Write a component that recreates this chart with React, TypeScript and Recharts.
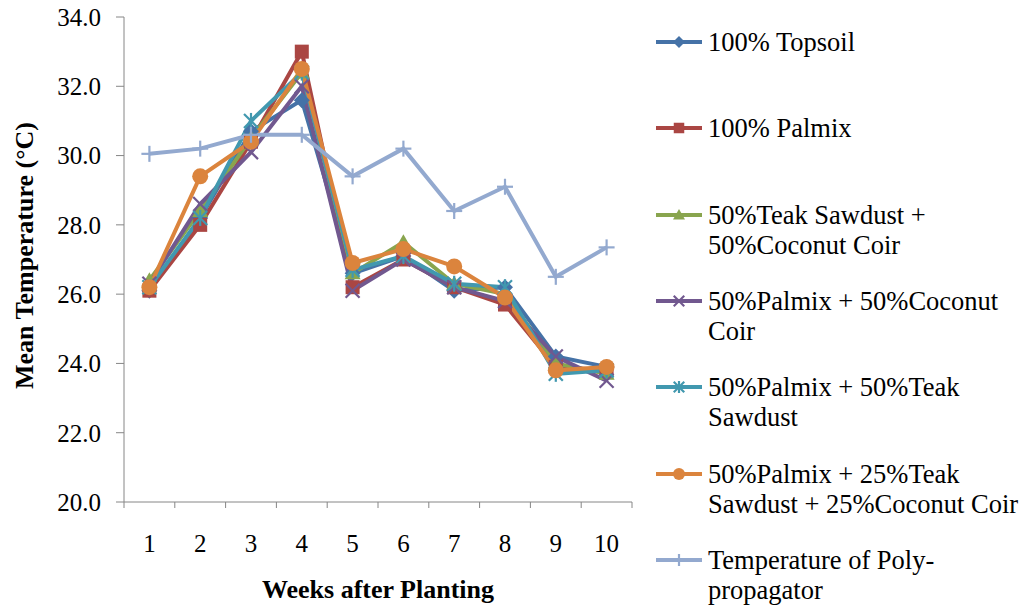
import React from "react";
import { LineChart, Line, XAxis, YAxis, Label } from "recharts";

const weeks = [1, 2, 3, 4, 5, 6, 7, 8, 9, 10];
const topsoil = [26.1, 28.2, 30.7, 31.6, 26.6, 27.1, 26.1, 26.2, 24.2, 23.9];
const palmix = [26.1, 28.0, 30.4, 33.0, 26.2, 27.0, 26.2, 25.7, 23.9, 23.8];
const teakCoir = [26.4, 28.4, 30.5, 32.4, 26.6, 27.5, 26.3, 26.0, 24.0, 23.7];
const palmixCoir = [26.3, 28.6, 30.1, 32.0, 26.1, 27.0, 26.2, 25.8, 24.2, 23.5];
const palmixTeak = [26.2, 28.2, 31.0, 32.4, 26.7, 27.1, 26.3, 26.2, 23.7, 23.8];
const palmixTeakCoir = [26.2, 29.4, 30.4, 32.5, 26.9, 27.3, 26.8, 25.9, 23.8, 23.9];
const polyPropagator = [30.05, 30.2, 30.6, 30.6, 29.4, 30.2, 28.4, 29.1, 26.5, 27.35];
const yTicks = [20, 22, 24, 26, 28, 30, 32, 34];

type Shape = "diamond" | "square" | "triangle" | "x" | "star" | "circle" | "plus";

const series: { key: string; name: string; color: string; shape: Shape; values: number[] }[] = [
  { key: "topsoil", name: "100% Topsoil", color: "#4572A7", shape: "diamond", values: topsoil },
  { key: "palmix", name: "100% Palmix", color: "#AA4643", shape: "square", values: palmix },
  { key: "teakCoir", name: "50%Teak Sawdust + 50%Coconut Coir", color: "#89A54E", shape: "triangle", values: teakCoir },
  { key: "palmixCoir", name: "50%Palmix + 50%Coconut Coir", color: "#71588F", shape: "x", values: palmixCoir },
  { key: "palmixTeak", name: "50%Palmix + 50%Teak Sawdust", color: "#4198AF", shape: "star", values: palmixTeak },
  { key: "palmixTeakCoir", name: "50%Palmix + 25%Teak Sawdust + 25%Coconut Coir", color: "#DB843D", shape: "circle", values: palmixTeakCoir },
  { key: "poly", name: "Temperature of Poly-propagator", color: "#93A9CF", shape: "plus", values: polyPropagator },
];

const data = weeks.map((w, i) => {
  const row: Record<string, number> = { week: w };
  series.forEach((s) => (row[s.key] = s.values[i]));
  return row;
});

const FONT = "Liberation Serif";
const AXIS = "#868686";

function Marker({ shape, cx, cy, color, s = 1 }: { shape: Shape; cx: number; cy: number; color: string; s?: number }) {
  const h = 8 * s;
  switch (shape) {
    case "diamond":
      return <polygon points={`${cx},${cy - h} ${cx + h},${cy} ${cx},${cy + h} ${cx - h},${cy}`} fill={color} />;
    case "square":
      return <rect x={cx - 7 * s} y={cy - 7 * s} width={14 * s} height={14 * s} fill={color} />;
    case "triangle":
      return <polygon points={`${cx},${cy - h} ${cx + h},${cy + 6 * s} ${cx - h},${cy + 6 * s}`} fill={color} />;
    case "x":
      return (
        <g stroke={color} strokeWidth={2.2}>
          <line x1={cx - 7 * s} y1={cy - 7 * s} x2={cx + 7 * s} y2={cy + 7 * s} />
          <line x1={cx - 7 * s} y1={cy + 7 * s} x2={cx + 7 * s} y2={cy - 7 * s} />
        </g>
      );
    case "star":
      return (
        <g stroke={color} strokeWidth={2.2}>
          <line x1={cx - 7 * s} y1={cy - 7 * s} x2={cx + 7 * s} y2={cy + 7 * s} />
          <line x1={cx - 7 * s} y1={cy + 7 * s} x2={cx + 7 * s} y2={cy - 7 * s} />
          <line x1={cx} y1={cy - h} x2={cx} y2={cy + h} />
        </g>
      );
    case "circle":
      return <circle cx={cx} cy={cy} r={h} fill={color} />;
    case "plus":
      return (
        <g stroke={color} strokeWidth={2.2}>
          <line x1={cx - h} y1={cy} x2={cx + h} y2={cy} />
          <line x1={cx} y1={cy - h} x2={cx} y2={cy + h} />
        </g>
      );
  }
}

const HALF_BAND = 25.4;

function WeekTick(props: any) {
  const { x, y, payload } = props;
  return (
    <g>
      <line x1={x - HALF_BAND} y1={y} x2={x - HALF_BAND} y2={y + 6} stroke={AXIS} />
      {payload.value === 10 && <line x1={x + HALF_BAND} y1={y} x2={x + HALF_BAND} y2={y + 6} stroke={AXIS} />}
      <text x={x} y={y + 50} textAnchor="middle" fill="#000" fontSize={25} fontFamily={FONT}>
        {payload.value}
      </text>
    </g>
  );
}

function LegendBox() {
  return (
    <div style={{ position: "absolute", left: 656, top: 0, width: 370, fontFamily: FONT, fontSize: 26.5, color: "#000" }}>
      {series.map((s, i) => (
        <div key={s.key} style={{ position: "absolute", top: 42 + i * 86.3 - 15, left: 0, display: "flex" }}>
          <svg width={46} height={30} style={{ flex: "none" }}>
            <line x1={0} y1={15} x2={46} y2={15} stroke={s.color} strokeWidth={4} />
            <Marker shape={s.shape} cx={23} cy={15} color={s.color} s={0.75} />
          </svg>
          <div style={{ marginLeft: 6, width: 322, lineHeight: "30px" }}>{s.name}</div>
        </div>
      ))}
    </div>
  );
}

export default function App() {
  return (
    <div style={{ position: "absolute", left: 0, top: 0, width: 1026, height: 607, background: "#fff" }}>
      <LineChart width={1026} height={607} data={data} margin={{ top: 17, right: 394, bottom: 45, left: 0 }}>
        <XAxis
          dataKey="week"
          type="number"
          domain={[0.5, 10.5]}
          ticks={weeks}
          stroke={AXIS}
          tickLine={false}
          tickSize={0}
          tickMargin={0}
          height={60}
          tick={(p: any) => <WeekTick {...p} />}
          label={{
            content: (p: any) => (
              <text
                x={p.viewBox.x + p.viewBox.width / 2}
                y={p.viewBox.y + 96}
                textAnchor="middle"
                fontFamily={FONT}
                fontWeight="bold"
                fontSize={26}
                fill="#000"
              >
                Weeks after Planting
              </text>
            ),
          }}
        />
        <YAxis
          type="number"
          domain={[20, 34]}
          ticks={yTicks}
          width={124}
          stroke={AXIS}
          tickSize={8}
          tickMargin={15}
          tickFormatter={(v: number) => v.toFixed(1)}
          tick={{ fill: "#000", fontSize: 25, fontFamily: FONT }}
        >
          <Label
            content={(p: any) => {
              const cx = 24;
              const cy = p.viewBox.y + p.viewBox.height / 2 - 4;
              return (
                <text
                  x={cx}
                  y={cy}
                  transform={`rotate(-90 ${cx} ${cy})`}
                  textAnchor="middle"
                  dominantBaseline="central"
                  fontFamily={FONT}
                  fontWeight="bold"
                  fontSize={26}
                  fill="#000"
                >
                  Mean Temperature (°C)
                </text>
              );
            }}
          />
        </YAxis>
        {series.map((s) => (
          <Line
            key={s.key}
            dataKey={s.key}
            name={s.name}
            stroke={s.color}
            strokeWidth={4}
            type="linear"
            isAnimationActive={false}
            dot={(p: any) => <Marker key={p.index} shape={s.shape} cx={p.cx} cy={p.cy} color={s.color} />}
            activeDot={false}
          />
        ))}
      </LineChart>
      <LegendBox />
    </div>
  );
}
